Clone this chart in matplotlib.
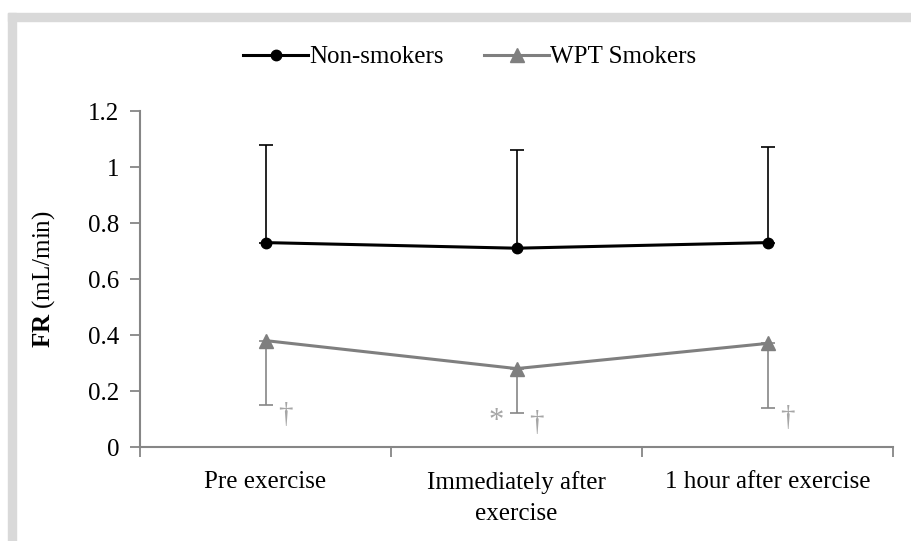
import matplotlib.pyplot as plt
from matplotlib.patches import Rectangle

plt.rcParams["font.family"] = ["Liberation Serif", "DejaVu Serif"]
plt.rcParams["mathtext.fontset"] = "custom"
plt.rcParams["mathtext.bf"] = "Liberation Serif:bold"
plt.rcParams["mathtext.rm"] = "Liberation Serif"

categories = ["Pre exercise", "Immediately after\nexercise", "1 hour after exercise"]
non_smokers = [0.73, 0.71, 0.73]
non_smokers_err = [0.35, 0.35, 0.34]
wpt_smokers = [0.38, 0.28, 0.37]
wpt_smokers_err = [0.23, 0.16, 0.23]
marks = [["†"], ["*", "†"], ["†"]]

axis_gray = "#868686"
mark_gray = "#a6a6a6"
fs = 18

fig = plt.figure(figsize=(9.12, 5.41), dpi=100)

# light gray frame, open at right and bottom
fig.patches.append(Rectangle((8 / 912, -0.1), 8 / 912, 1 - 13 / 541 + 0.1,
                             transform=fig.transFigure, color="#d9d9d9", zorder=0))
fig.patches.append(Rectangle((8 / 912, 1 - 21 / 541), 1.0, 8 / 541,
                             transform=fig.transFigure, color="#d9d9d9", zorder=0))

ax = fig.add_axes([140 / 912, 1 - 447 / 541, 753 / 912, 336 / 541])
x = [0, 1, 2]

ax.errorbar(x, non_smokers, yerr=[[0, 0, 0], non_smokers_err], fmt="none",
            ecolor="black", elinewidth=1.2, capsize=4.8, capthick=1.2, zorder=2)
ax.errorbar(x, wpt_smokers, yerr=[wpt_smokers_err, [0, 0, 0]], fmt="none",
            ecolor=axis_gray, elinewidth=1.2, capsize=4.8, capthick=1.2, zorder=2)
ax.plot(x, non_smokers, color="black", lw=2.2, marker="o", ms=7.5,
        label="Non-smokers", zorder=3)
ax.plot(x, wpt_smokers, color="#7f7f7f", lw=2.2, marker="^", ms=10,
        label="WPT Smokers", zorder=3)

# significance marks beside the lower caps
for i, m in enumerate(marks):
    low = wpt_smokers[i] - wpt_smokers_err[i]
    if "*" in m:
        ax.text(i - 0.08, low - 0.03, "*", color=mark_gray, fontsize=22,
                ha="center", va="center")
    ax.text(i + 0.08, low - 0.035, "†", color=mark_gray, fontsize=21,
            ha="center", va="center")

ax.set_xlim(-0.5, 2.5)
ax.set_ylim(0, 1.2)
ax.set_yticks([0, 0.2, 0.4, 0.6, 0.8, 1.0, 1.2])
ax.set_yticklabels(["0", "0.2", "0.4", "0.6", "0.8", "1", "1.2"])
ax.set_xticks([-0.5, 0.5, 1.5, 2.5])
ax.set_xticklabels([])
ax.set_xticks(x, minor=True)
ax.set_xticklabels(categories, minor=True, linespacing=1.55)
ax.tick_params(axis="x", which="minor", length=0, pad=17, labelsize=fs)
ax.tick_params(axis="x", which="major", length=7, width=1.3, color=axis_gray)
ax.tick_params(axis="y", length=7, width=1.3, color=axis_gray, labelsize=fs, pad=8)

for s in ["top", "right"]:
    ax.spines[s].set_visible(False)
for s in ["left", "bottom"]:
    ax.spines[s].set_color(axis_gray)
    ax.spines[s].set_linewidth(1.5)

ax.set_ylabel(r"$\mathbf{FR}$ (mL/min)", fontsize=fs, labelpad=22)

fig.legend(loc="center", bbox_to_anchor=(470 / 912, 1 - 57 / 541), ncol=2,
           frameon=False, fontsize=fs, handlelength=2.6, handletextpad=0.05,
           columnspacing=1.6)

fig.savefig("out.png", dpi=100, facecolor="white")
